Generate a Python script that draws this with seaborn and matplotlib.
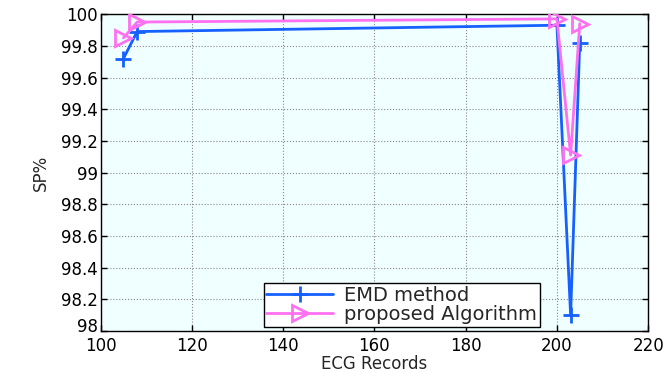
"""SP% comparison across ECG records."""

import matplotlib
matplotlib.use("Agg")
import matplotlib.pyplot as plt
import matplotlib.transforms as mtransforms
import pandas as pd
import seaborn as sns

ecg_records = [105, 108, 200, 203, 205]
sp_emd = [99.72, 99.89, 99.93, 98.10, 99.82]
sp_proposed = [99.85, 99.95, 99.97, 99.11, 99.94]

series_names = ["EMD method", "proposed Algorithm"]
x_ticks = [100, 120, 140, 160, 180, 200, 220]
y_ticks = [98, 98.2, 98.4, 98.6, 98.8, 99, 99.2, 99.4, 99.6, 99.8, 100]
y_tick_labels = ["98", "98.2", "98.4", "98.6", "98.8", "99", "99.2", "99.4", "99.6", "99.8", "100"]

df = pd.DataFrame({
    "record": ecg_records * 2,
    "sp": sp_emd + sp_proposed,
    "method": [series_names[0]] * len(ecg_records) + [series_names[1]] * len(ecg_records),
})

sns.set_theme(style="white")
plt.rcParams["font.family"] = ["DejaVu Sans"]

fig = plt.figure(figsize=(6.71, 3.72), dpi=100)
ax = fig.add_axes([0.150, 0.110, 0.816, 0.852])
ax.set_facecolor("#F0FFFF")

palette = {series_names[0]: "#1560FF", series_names[1]: "#FF70F0"}
markers = {series_names[0]: "+", series_names[1]: ">"}

for name in series_names:
    sub = df[df["method"] == name]
    sns.lineplot(
        data=sub, x="record", y="sp", ax=ax, color=palette[name], linewidth=2,
        marker=markers[name], markersize=11, markeredgewidth=2,
        markerfacecolor="none", markeredgecolor=palette[name], label=name,
        sort=False, zorder=3,
    )

ax.set_xlim(100, 220)
ax.set_ylim(98, 100)
ax.set_xticks(x_ticks)
ax.set_yticks(y_ticks)
ax.set_yticklabels(y_tick_labels)
ax.grid(True, color="#888888", linestyle=":", linewidth=0.8)
ax.tick_params(direction="in", length=4, width=1, labelsize=12, colors="black",
               top=True, right=True, bottom=True, left=True, pad=2)
ax.tick_params(axis="x", pad=4)
lbl98 = ax.get_yticklabels()[0]
lbl98.set_transform(lbl98.get_transform() + mtransforms.ScaledTranslation(0, 6 / 100, fig.dpi_scale_trans))
for s in ax.spines.values():
    s.set_color("black")
    s.set_linewidth(1)
ax.set_xlabel("ECG Records", fontsize=12, labelpad=0)
ax.set_ylabel("SP%", fontsize=12, labelpad=8)

leg = ax.legend(loc="lower center", bbox_to_anchor=(0.55, 0.0), fontsize=14,
                frameon=True, fancybox=False, edgecolor="black", framealpha=1,
                borderpad=0.15, borderaxespad=0.2, handlelength=3.4,
                labelspacing=0.0, handletextpad=0.6)
leg.get_frame().set_linewidth(1)

fig.savefig("out.png", dpi=100)
